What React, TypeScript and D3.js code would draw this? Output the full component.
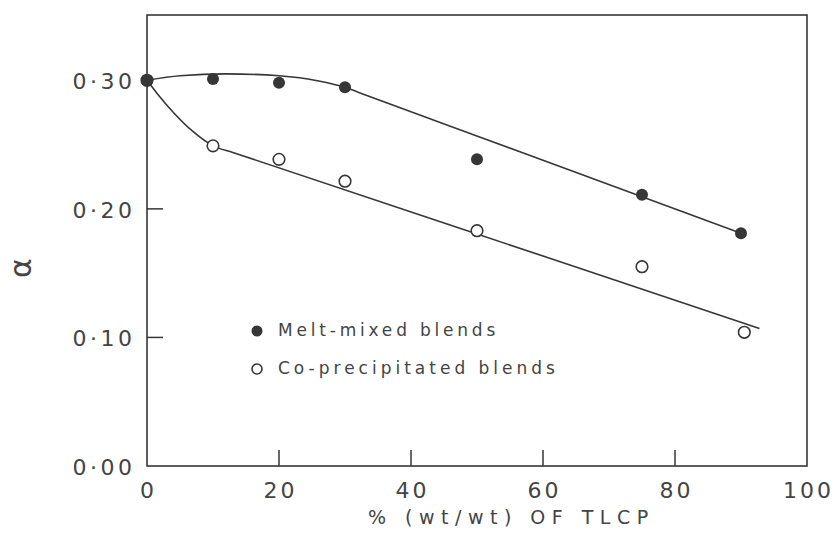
import React from "react";
import * as d3 from "d3";

// Measured values (TLCP content, % wt/wt; alpha)
const meltX = [0, 10, 20, 30, 50, 75, 90];
const meltY = [0.3, 0.301, 0.298, 0.2945, 0.2385, 0.211, 0.181];
const coppX = [0, 10, 20, 30, 50, 75, 90.5];
const coppY = [0.3, 0.249, 0.2385, 0.2215, 0.183, 0.155, 0.104];

// Hand-fitted trend curves (nodes): a curved start, then a straight run
const meltFitX = [0, 5, 12, 20, 26, 30, 33, 60, 90];
const meltFitY = [0.3, 0.3035, 0.305, 0.3035, 0.2995, 0.2945, 0.2888, 0.2378, 0.181];
const coppFitX = [0, 1.5, 4, 7, 10, 13, 60, 92.8];
const coppFitY = [0.3, 0.29, 0.275, 0.26, 0.249, 0.2439, 0.1633, 0.107];

const xTicks = [0, 20, 40, 60, 80, 100];
const yTickVals = [0, 0.1, 0.2, 0.3];
const yTickLabels = ["0·00", "0·10", "0·20", "0·30"];
const legendLabels = ["Melt-mixed blends", "Co-precipitated blends"];

const INK = "#363636";
const TEXT = "#444";
const FONT = "'DejaVu Sans', sans-serif";

export default function App() {
  const W = 840;
  const H = 541;
  const left = 147;
  const right = 807;
  const bottom = 466;
  const top = 15;

  const x = d3.scaleLinear().domain([0, 100]).range([left, right]);
  const y = d3.scaleLinear().domain([0, 0.35]).range([bottom, 16]);

  const line = d3
    .line<[number, number]>()
    .x((d) => x(d[0]))
    .y((d) => y(d[1]))
    .curve(d3.curveMonotoneX);

  const meltFit = meltFitX.map((v, i) => [v, meltFitY[i]] as [number, number]);
  const coppFit = coppFitX.map((v, i) => [v, coppFitY[i]] as [number, number]);

  const tickLs = 3;
  const yLs = 3.5;

  return (
    <svg
      width={W}
      height={H}
      style={{ position: "absolute", left: 0, top: 0, background: "#fff" }}
    >
      {/* frame */}
      <rect
        x={left}
        y={top}
        width={right - left}
        height={bottom - top}
        fill="none"
        stroke={INK}
        strokeWidth={1.6}
      />

      {/* inward ticks */}
      {xTicks
        .filter((t) => t > 0 && t < 100)
        .map((t) => (
          <line
            key={"xt" + t}
            x1={x(t)}
            x2={x(t)}
            y1={bottom}
            y2={bottom - 16}
            stroke={INK}
            strokeWidth={1.5}
          />
        ))}
      {yTickVals
        .filter((t) => t > 0 && t < 0.3)
        .map((t) => (
          <line
            key={"yt" + t}
            x1={left}
            x2={left + 16}
            y1={y(t)}
            y2={y(t)}
            stroke={INK}
            strokeWidth={1.5}
          />
        ))}

      {/* tick labels */}
      {xTicks.map((t) => (
        <text
          key={"xl" + t}
          x={x(t) + tickLs / 2}
          y={498}
          textAnchor="middle"
          fontFamily={FONT}
          fontSize={22}
          letterSpacing={tickLs}
          fill={TEXT}
        >
          {t}
        </text>
      ))}
      {yTickVals.map((t, i) => (
        <text
          key={"yl" + t}
          x={132 + yLs}
          y={y(t) + 9}
          textAnchor="end"
          fontFamily={FONT}
          fontSize={22}
          letterSpacing={yLs}
          fill={TEXT}
        >
          {yTickLabels[i]}
        </text>
      ))}

      {/* axis titles */}
      <text
        x={368}
        y={524}
        fontFamily={FONT}
        fontSize={19}
        letterSpacing={6.5}
        fill={TEXT}
      >
        % (wt/wt) OF TLCP
      </text>
      <text
        transform={`translate(31, 268) rotate(-90)`}
        textAnchor="middle"
        fontFamily={FONT}
        fontSize={30}
        fill={TEXT}
      >
        α
      </text>

      {/* fitted curves */}
      <path d={line(meltFit) ?? ""} fill="none" stroke={INK} strokeWidth={1.6} />
      <path d={line(coppFit) ?? ""} fill="none" stroke={INK} strokeWidth={1.6} />

      {/* data points */}
      {coppX.map((v, i) => (
        <circle
          key={"c" + i}
          cx={x(v)}
          cy={y(coppY[i])}
          r={5.8}
          fill="#fff"
          stroke={INK}
          strokeWidth={1.6}
        />
      ))}
      {meltX.map((v, i) => (
        <circle key={"m" + i} cx={x(v)} cy={y(meltY[i])} r={6} fill={INK} />
      ))}

      {/* legend */}
      <circle cx={257} cy={331} r={5.5} fill={INK} />
      <circle cx={257} cy={369} r={5} fill="#fff" stroke={INK} strokeWidth={1.6} />
      <text
        x={278}
        y={336}
        fontFamily={FONT}
        fontSize={17}
        letterSpacing={3.8}
        fill={TEXT}
      >
        {legendLabels[0]}
      </text>
      <text
        x={278}
        y={374}
        fontFamily={FONT}
        fontSize={17}
        letterSpacing={4}
        fill={TEXT}
      >
        {legendLabels[1]}
      </text>
    </svg>
  );
}
